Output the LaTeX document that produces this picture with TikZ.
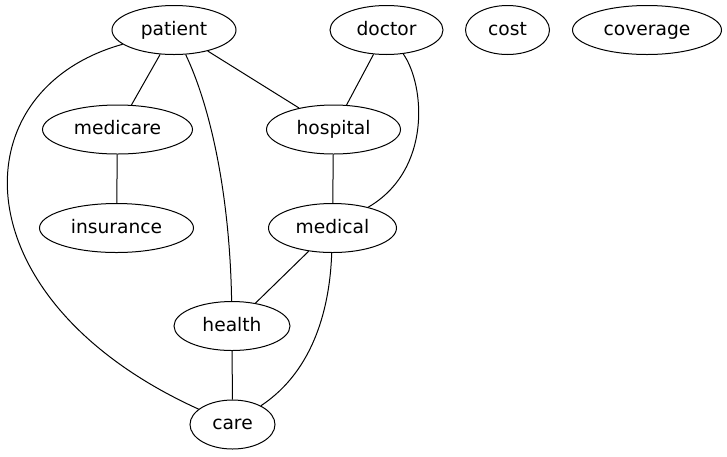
\documentclass[tikz,border=0pt]{standalone}
\usepackage{fontspec}
\setmainfont{DejaVu Sans}
\usetikzlibrary{shapes.geometric}
\begin{document}
\begin{tikzpicture}[x=1pt, y=-1pt, line width=1pt,
        word/.style={draw, ellipse, inner sep=0pt, minimum height=49pt,
            text height=14pt, text depth=4pt,
            font=\fontsize{18.67}{22}\selectfont}]
            \useasboundingbox (0,0) rectangle (727,456);
            \node[word, minimum width=124pt] (patient) at (174,30) {patient};
            \node[word, minimum width=113pt] (doctor) at (386.5,30) {doctor};
            \node[word, minimum width=84pt] (cost) at (507.5,30) {cost};
            \node[word, minimum width=149pt] (coverage) at (647,30) {coverage};
            \node[word, minimum width=150pt] (medicare) at (117.5,129.5) {medicare};
            \node[word, minimum width=134pt] (hospital) at (333.5,129.5) {hospital};
            \node[word, minimum width=154pt] (insurance) at (116.5,228) {insurance};
            \node[word, minimum width=128pt] (medical) at (332.5,228) {medical};
            \node[word, minimum width=116pt] (health) at (232,326) {health};
            \node[word, minimum width=85pt] (care) at (232.5,424.5) {care};
            \draw (patient) -- (medicare);
            \draw (patient) -- (hospital);
            \draw (patient) .. controls (212,110) and (230,200) .. (health);
            \draw (patient) .. controls (-42,90) and (-42,300) .. (care);
            \draw (doctor) -- (hospital);
            \draw (doctor) .. controls (425,85) and (432,170) .. (medical);
            \draw (medicare) -- (insurance);
            \draw (hospital) -- (medical);
            \draw (medical) -- (health);
            \draw (medical) .. controls (330,305) and (315,370) .. (care);
            \draw (health) -- (care);
        \end{tikzpicture}
\end{document}
